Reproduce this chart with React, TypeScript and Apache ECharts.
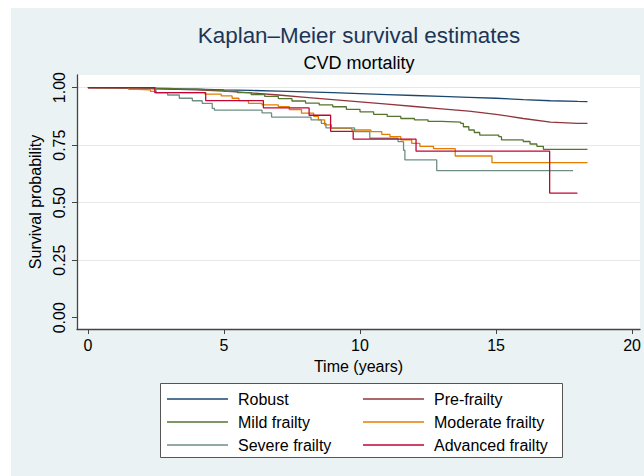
import { useEffect, useRef } from "react";
import * as echarts from "echarts";

const xTicks = [0, 5, 10, 15, 20];
const yTicks = [0, 0.25, 0.5, 0.75, 1];

const seriesNames = [
  "Robust",
  "Pre-frailty",
  "Mild frailty",
  "Moderate frailty",
  "Severe frailty",
  "Advanced frailty",
];
const seriesColors = ["#1a476f", "#90353b", "#55752f", "#e37e00", "#6e8e84", "#c10534"];
const seriesStep = [false, false, true, true, true, true];

const robust: [number, number][] = [
  [0, 1], [1, 0.999], [2, 0.997], [3, 0.995], [4, 0.993], [5, 0.99], [6, 0.988],
  [7, 0.985], [8, 0.982], [9, 0.978], [10, 0.974], [11, 0.97], [12, 0.966],
  [13, 0.962], [14, 0.958], [15, 0.954], [16, 0.948], [17, 0.943], [18, 0.94], [18.36, 0.939],
];
const preFrailty: [number, number][] = [
  [0, 1], [1, 0.999], [2, 0.997], [3, 0.994], [4, 0.99], [5, 0.985], [6, 0.977],
  [7, 0.968], [8, 0.958], [9, 0.948], [10, 0.938], [11, 0.928], [12, 0.918],
  [13, 0.908], [14, 0.898], [15, 0.884], [16, 0.866], [17, 0.85], [18, 0.845], [18.36, 0.845],
];
const mildFrailty: [number, number][] = [
  [0, 1], [1, 0.999], [2, 0.997], [3, 0.994], [3.5, 0.993], [4, 0.99], [4.5, 0.988],
  [5, 0.984], [5.5, 0.978], [6, 0.97], [6.5, 0.962], [7, 0.952], [7.5, 0.942],
  [8, 0.933], [8.5, 0.925], [9, 0.917], [9.5, 0.906], [10, 0.895], [10.5, 0.884],
  [11, 0.875], [11.5, 0.866], [12, 0.86], [12.5, 0.853], [13, 0.85], [13.7, 0.845],
  [13.8, 0.83], [14.0, 0.816], [14.2, 0.805], [14.4, 0.794], [15.1, 0.787],
  [15.2, 0.773], [16.0, 0.766], [16.25, 0.755], [16.5, 0.745], [16.74, 0.732], [18.36, 0.732],
];
const moderateFrailty: [number, number][] = [
  [0, 1], [1.5, 0.993], [1.8, 0.99], [2.3, 0.984], [2.5, 0.978], [4.3, 0.972], [4.9, 0.964],
  [5.3, 0.954], [5.55, 0.944], [5.9, 0.932], [6.4, 0.925], [7.0, 0.917], [7.4, 0.905],
  [7.85, 0.889], [8.3, 0.875], [8.47, 0.86], [8.7, 0.838], [8.95, 0.823], [9.7, 0.816],
  [10.4, 0.809], [10.8, 0.797], [11.1, 0.787], [11.5, 0.773], [11.9, 0.758], [12.2, 0.745],
  [12.7, 0.735], [13.5, 0.703], [14.85, 0.674], [18.36, 0.674],
];
const severeFrailty: [number, number][] = [
  [0, 1], [2.5, 0.978], [2.93, 0.968], [3.36, 0.954], [3.84, 0.943], [4.2, 0.932],
  [4.57, 0.91], [4.65, 0.902], [6.4, 0.89], [6.75, 0.872], [8.2, 0.86], [8.58, 0.845],
  [8.75, 0.825], [9.8, 0.809], [10.36, 0.78], [11.4, 0.765], [11.6, 0.728], [11.65, 0.686],
  [12.82, 0.639], [17.83, 0.639],
];
const advancedFrailty: [number, number][] = [
  [0, 1], [2.46, 0.978], [4.33, 0.944], [6.45, 0.912], [8.13, 0.88], [8.92, 0.81],
  [9.75, 0.776], [12.06, 0.724], [16.97, 0.542], [17.99, 0.542],
];

const seriesData = [robust, preFrailty, mildFrailty, moderateFrailty, severeFrailty, advancedFrailty];

const FONT = "'Liberation Sans', Arial, Helvetica, sans-serif";

export default function App() {
  const ref = useRef<HTMLDivElement>(null);

  useEffect(() => {
    if (!ref.current) return;
    const chart = echarts.init(ref.current, null, { renderer: "svg" });
    const legendCommon = {
      orient: "vertical",
      top: 391,
      icon: "rect",
      itemWidth: 61,
      itemHeight: 1.4,
      itemGap: 7,
      padding: 0,
      selectedMode: false,
      textStyle: { fontSize: 16, color: "#000", fontFamily: FONT, lineHeight: 16, padding: [0, 0, 0, 5] },
    };
    chart.setOption({
      animation: false,
      backgroundColor: "#ffffff",
      textStyle: { fontFamily: FONT },
      graphic: [
        {
          type: "rect",
          z: -1,
          silent: true,
          shape: { x: 11, y: 8, width: 633, height: 468 },
          style: { fill: "#eaf2f3" },
        },
        {
          type: "rect",
          z: 1,
          silent: true,
          shape: { x: 160.5, y: 383.5, width: 402, height: 74 },
          style: { fill: "#ffffff", stroke: "#555555", lineWidth: 1 },
        },
      ],
      title: [
        {
          text: "Kaplan–Meier survival estimates",
          left: 359,
          top: 24,
          textAlign: "center",
          padding: 0,
          textStyle: { fontSize: 22.4, fontWeight: "normal", color: "#1e3556", fontFamily: FONT },
        },
        {
          text: "CVD mortality",
          left: 359,
          top: 54,
          textAlign: "center",
          padding: 0,
          textStyle: { fontSize: 18, fontWeight: "normal", color: "#000", fontFamily: FONT },
        },
      ],
      grid: {
        left: 77,
        top: 75,
        right: 0,
        bottom: 147,
        show: true,
        backgroundColor: "#ffffff",
        borderWidth: 0,
      },
      legend: [
        { ...legendCommon, left: 167, data: [seriesNames[0], seriesNames[2], seriesNames[4]] },
        { ...legendCommon, left: 363, data: [seriesNames[1], seriesNames[3], seriesNames[5]] },
      ],
      xAxis: {
        type: "value",
        min: -0.4,
        max: 20.29,
        name: "Time (years)",
        nameLocation: "middle",
        nameGap: 29,
        nameTextStyle: { fontSize: 16, color: "#000", fontFamily: FONT },
        axisLine: { show: true, onZero: false, lineStyle: { color: "#444", width: 1.3 } },
        axisTick: { show: true, length: 5, customValues: xTicks, lineStyle: { color: "#444", width: 1 } },
        axisLabel: { customValues: xTicks, fontSize: 16, color: "#000", margin: 8, fontFamily: FONT },
        splitLine: { show: false },
      },
      yAxis: {
        type: "value",
        min: -0.049,
        max: 1.055,
        name: "Survival probability",
        nameLocation: "middle",
        nameRotate: 90,
        nameGap: 28,
        nameTextStyle: { fontSize: 16, color: "#000", fontFamily: FONT },
        axisLine: { show: true, onZero: false, lineStyle: { color: "#444", width: 1.3 } },
        axisTick: { show: true, length: 5, customValues: yTicks, lineStyle: { color: "#444", width: 1 } },
        axisLabel: {
          customValues: yTicks,
          rotate: 90,
          fontSize: 16,
          color: "#000",
          margin: 10,
          fontFamily: FONT,
          formatter: (v: number) => v.toFixed(2),
        },
        splitLine: {
          show: true,
          lineStyle: {
            color: ["rgba(0,0,0,0)", "#e8e8e8", "#e8e8e8", "#e8e8e8", "#e8e8e8"],
            width: 1,
          },
        },
      },
      series: seriesData.map((d, i) => ({
        type: "line",
        name: seriesNames[i],
        data: d,
        step: seriesStep[i] ? "end" : false,
        symbol: "none",
        showSymbol: false,
        lineStyle: { width: 1.3, color: seriesColors[i] },
        itemStyle: { color: seriesColors[i] },
        z: 2 + i,
      })),
    });
    return () => chart.dispose();
  }, []);

  return (
    <div
      ref={ref}
      style={{ position: "fixed", left: 0, top: 0, width: 644, height: 476 }}
    />
  );
}
